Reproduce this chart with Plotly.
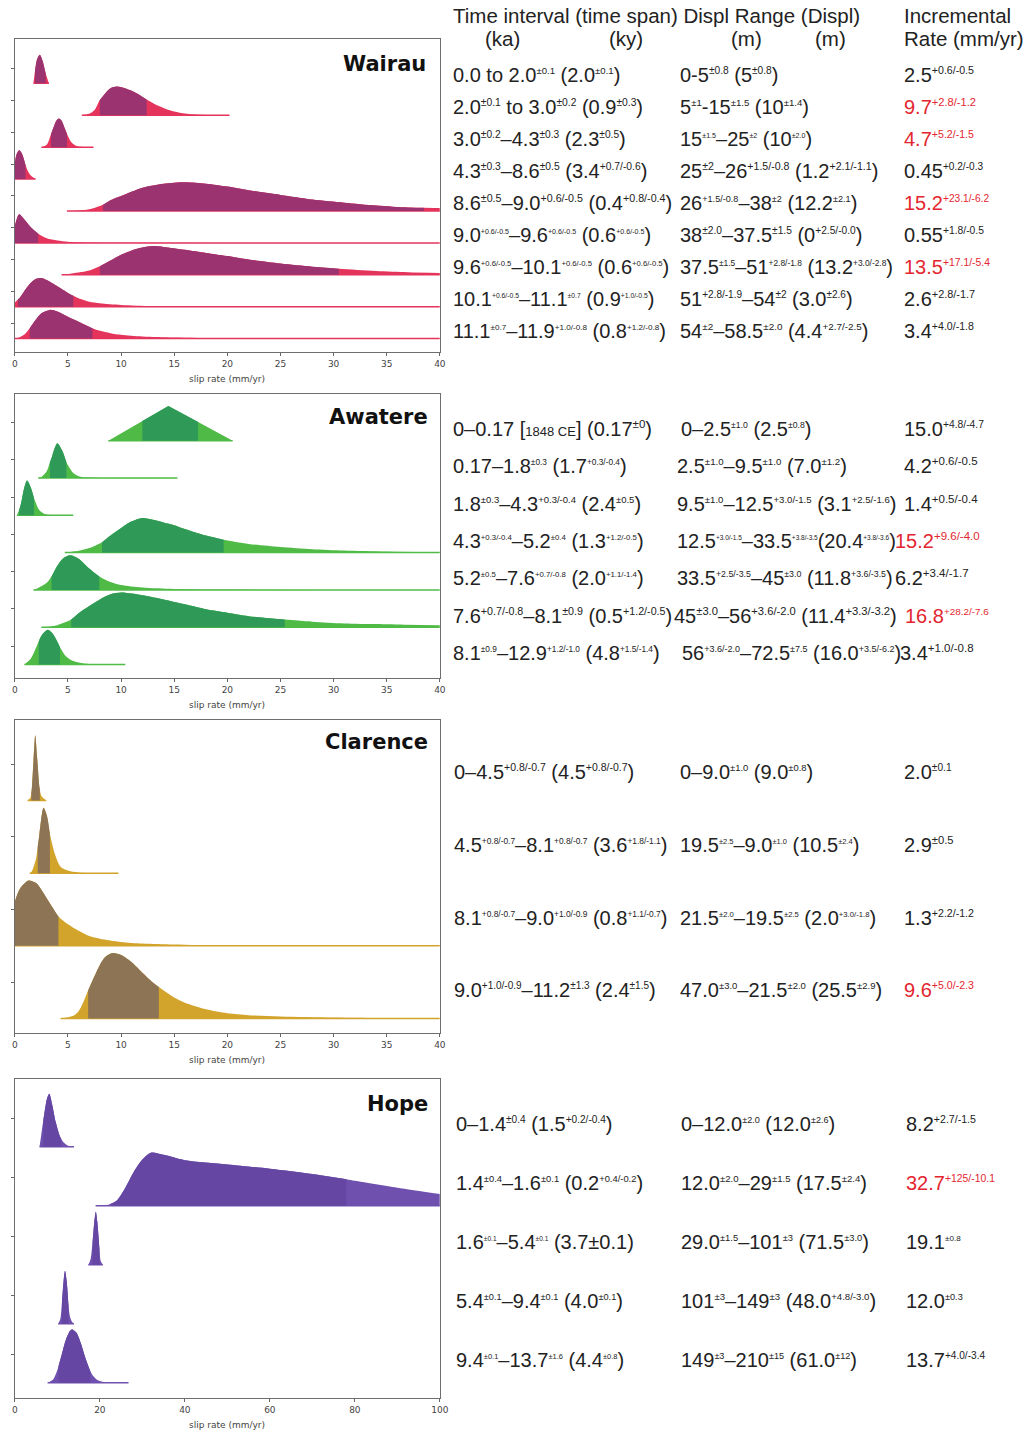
import re
import plotly.graph_objects as go

W, H = 1029, 1435

# ------------------------------------------------------------------ data
# Each ridge: slip-rate sample points (mm/yr) and relative density (peak = 1),
# plus the bounds of the darker (central) interval.
wairau_x = [
    [1.75, 1.9, 2.1, 2.35, 2.6, 2.9, 3.2],
    [6.3, 7.0, 7.5, 8.0, 8.5, 9.0, 9.6, 10.5, 11.5, 12.4, 13.5, 14.5, 15.5, 17.0, 20.2],
    [2.5, 3.0, 3.4, 3.6, 3.9, 4.15, 4.4, 4.7, 4.9, 5.3, 5.7, 6.3, 7.4],
    [0.0, 0.15, 0.4, 0.65, 1.0, 1.2, 1.5, 1.95],
    [4.9, 6, 7, 8.3, 9, 10, 12, 14, 16, 18, 20, 22, 25, 28, 31, 34, 37, 38.5, 40],
    [0.0, 0.4, 1.0, 1.5, 2.2, 2.5, 3, 4, 5, 7, 10, 40],
    [4.4, 5, 6, 7, 8, 9, 10, 11, 12, 13, 14, 16, 18, 20, 22, 25, 28, 30.5, 34, 37, 40],
    [0.0, 0.3, 0.5, 1, 1.5, 2, 2.5, 3, 4, 5, 5.5, 6, 7, 8, 10, 13, 18, 40],
    [0.0, 0.5, 1, 1.4, 2, 2.5, 3.3, 4, 5, 6, 7.3, 8, 9, 10, 12, 15, 20, 40],
]
wairau_h = [
    [0, 0.45, 0.85, 1.0, 0.8, 0.35, 0],
    [0, 0.05, 0.18, 0.53, 0.76, 0.94, 1.0, 0.92, 0.76, 0.55, 0.33, 0.18, 0.09, 0.03, 0],
    [0, 0.08, 0.45, 0.65, 0.92, 1.0, 0.92, 0.65, 0.47, 0.18, 0.06, 0.01, 0],
    [0.55, 0.85, 1.0, 0.9, 0.5, 0.3, 0.12, 0],
    [0, 0.02, 0.06, 0.22, 0.375, 0.52, 0.81, 0.95, 1.0, 0.95, 0.85, 0.72, 0.56, 0.4, 0.29, 0.19, 0.12, 0.11, 0.1],
    [0.6, 1.0, 0.77, 0.54, 0.32, 0.25, 0.16, 0.08, 0.04, 0.01, 0.003, 0],
    [0, 0.03, 0.08, 0.15, 0.3, 0.5, 0.7, 0.85, 0.95, 1.0, 0.97, 0.87, 0.76, 0.65, 0.53, 0.39, 0.28, 0.21, 0.13, 0.09, 0.06],
    [0.15, 0.26, 0.33, 0.6, 0.83, 0.97, 1.0, 0.93, 0.71, 0.48, 0.38, 0.29, 0.17, 0.12, 0.06, 0.02, 0.005, 0],
    [0, 0.06, 0.18, 0.36, 0.67, 0.88, 1.0, 0.94, 0.76, 0.59, 0.36, 0.27, 0.19, 0.13, 0.07, 0.035, 0.01, 0],
]
wairau_lo = [1.9, 8.0, 3.4, 0.0, 8.3, 0.0, 8.0, 0.3, 1.4]
wairau_hi = [2.9, 12.4, 4.9, 1.0, 38.5, 2.2, 30.5, 5.5, 7.3]

awatere_x = [
    [8.8, 12.0, 14.45, 17.25, 20.5],
    [2.2, 2.5, 3.0, 3.3, 3.5, 3.75, 4.0, 4.5, 4.85, 5.5, 6.0, 7.0, 15.3],
    [0.2, 0.4, 0.6, 0.85, 1.15, 1.5, 1.8, 2.3, 2.8, 3.5, 5.5],
    [4.7, 5, 6, 7, 8.2, 9, 10, 11, 12, 13, 14, 15, 16, 17, 18, 19.65, 22, 25, 28, 31, 35, 40],
    [1.75, 2, 3, 3.45, 4, 4.5, 5.2, 6, 7, 7.95, 9, 10, 12, 15, 20, 40],
    [2.5, 3, 4, 5.3, 6, 7, 8, 9, 10, 11, 12, 14, 16, 18, 20, 22, 25.4, 28, 31, 34, 37, 40],
    [0.9, 1, 1.5, 2, 2.25, 2.5, 3.1, 3.6, 4.25, 4.8, 5.5, 6.5, 8, 10.4],
]
awatere_h = [
    [0, 0.566, 1.0, 0.537, 0],
    [0, 0.03, 0.19, 0.45, 0.62, 0.86, 1.0, 0.76, 0.45, 0.14, 0.05, 0.01, 0],
    [0, 0.15, 0.36, 0.75, 1.0, 0.8, 0.5, 0.15, 0.04, 0.01, 0],
    [0, 0.01, 0.05, 0.13, 0.3, 0.49, 0.71, 0.9, 1.0, 0.95, 0.87, 0.79, 0.68, 0.58, 0.49, 0.37, 0.25, 0.16, 0.1, 0.06, 0.03, 0.01],
    [0, 0.03, 0.21, 0.39, 0.7, 0.9, 1.0, 0.9, 0.62, 0.39, 0.23, 0.14, 0.07, 0.03, 0.01, 0],
    [0, 0.01, 0.06, 0.22, 0.4, 0.61, 0.8, 0.95, 1.0, 0.97, 0.92, 0.8, 0.66, 0.52, 0.42, 0.32, 0.22, 0.16, 0.11, 0.09, 0.07, 0.06],
    [0, 0.03, 0.17, 0.49, 0.67, 0.83, 1.0, 0.87, 0.5, 0.24, 0.1, 0.03, 0.01, 0],
]
awatere_lo = [12.0, 3.3, 0.4, 8.2, 3.45, 5.3, 2.25]
awatere_hi = [17.25, 4.85, 1.8, 19.65, 7.95, 25.4, 4.25]

clarence_x = [
    [1.2, 1.45, 1.55, 1.6, 1.75, 1.92, 2.1, 2.3, 2.35, 2.5, 2.95],
    [1.4, 1.6, 2.0, 2.15, 2.3, 2.7, 3.0, 3.3, 3.8, 4.3, 5, 6, 9.75],
    [0.0, 0.5, 1.3, 2, 2.5, 3, 3.5, 4.1, 5, 6, 7, 8, 10, 12, 15, 20, 40],
    [4.3, 5.5, 6, 6.5, 6.9, 7.5, 8, 8.5, 9.2, 10, 11, 12, 13, 13.55, 15, 16, 18, 20, 22, 25, 30, 35, 40],
]
clarence_h = [
    [0, 0.04, 0.12, 0.19, 0.6, 1.0, 0.65, 0.22, 0.17, 0.07, 0],
    [0, 0.03, 0.23, 0.4, 0.58, 1.0, 0.89, 0.6, 0.28, 0.1, 0.04, 0.01, 0],
    [0.68, 0.88, 1.0, 0.96, 0.86, 0.73, 0.6, 0.45, 0.33, 0.23, 0.15, 0.11, 0.06, 0.035, 0.02, 0.005, 0],
    [0, 0.04, 0.11, 0.27, 0.43, 0.65, 0.82, 0.94, 1.0, 0.97, 0.86, 0.7, 0.55, 0.48, 0.32, 0.24, 0.14, 0.08, 0.05, 0.03, 0.015, 0.005, 0],
]
clarence_lo = [1.55, 2.15, 0.0, 6.9]
clarence_hi = [2.35, 3.3, 4.1, 13.55]

hope_x = [
    [5.8, 6.2, 6.7, 7, 7.6, 8.1, 8.8, 9.6, 10.5, 10.9, 11.5, 12.5, 13.9],
    [19, 20, 22, 22.6, 24, 26, 28, 30, 32, 35, 40, 50, 60, 70, 78, 80, 90, 100],
    [17.3, 17.8, 18.3, 18.7, 19.05, 19.4, 19.9, 20.2, 20.7],
    [10.2, 10.7, 11.1, 11.5, 11.8, 12.2, 12.6, 13.0, 13.5, 13.9],
    [7.7, 8, 9, 10, 10.3, 11, 12, 13, 13.5, 14.5, 15.5, 16.5, 17.7, 18.5, 19.5, 21, 26.75],
]
hope_h = [
    [0, 0.22, 0.5, 0.66, 0.92, 1.0, 0.79, 0.47, 0.22, 0.15, 0.08, 0.02, 0],
    [0, 0.005, 0.02, 0.04, 0.1, 0.34, 0.64, 0.87, 1.0, 0.96, 0.86, 0.78, 0.7, 0.6, 0.5, 0.47, 0.34, 0.22],
    [0, 0.1, 0.44, 0.81, 1.0, 0.81, 0.3, 0.07, 0],
    [0, 0.09, 0.43, 0.83, 1.0, 0.8, 0.37, 0.12, 0.03, 0],
    [0, 0.01, 0.06, 0.24, 0.32, 0.52, 0.81, 0.98, 1.0, 0.94, 0.75, 0.49, 0.23, 0.12, 0.045, 0.01, 0],
]
hope_lo = [6.7, 22.6, 18.3, 11.1, 10.3]
hope_hi = [10.9, 78.0, 19.9, 12.6, 17.7]

# table text ( {...} = superscript, «...» = small text )
wairau_interval = [
    "0.0 to 2.0{±0.1} (2.0{±0.1})",
    "2.0{±0.1} to 3.0{±0.2} (0.9{±0.3})",
    "3.0{±0.2}–4.3{±0.3} (2.3{±0.5})",
    "4.3{±0.3}–8.6{±0.5} (3.4{+0.7/-0.6})",
    "8.6{±0.5}–9.0{+0.6/-0.5} (0.4{+0.8/-0.4})",
    "9.0{+0.6/-0.5}–9.6{+0.6/-0.5} (0.6{+0.6/-0.5})",
    "9.6{+0.6/-0.5}–10.1{+0.6/-0.5} (0.6{+0.6/-0.5})",
    "10.1{+0.6/-0.5}–11.1{±0.7} (0.9{+1.0/-0.5})",
    "11.1{±0.7}–11.9{+1.0/-0.8} (0.8{+1.2/-0.8})",
]
wairau_displ = [
    "0-5{±0.8} (5{±0.8})",
    "5{±1}-15{±1.5} (10{±1.4})",
    "15{±1.5}–25{±2} (10{±2.0})",
    "25{±2}–26{+1.5/-0.8} (1.2{+2.1/-1.1})",
    "26{+1.5/-0.8}–38{±2} (12.2{±2.1})",
    "38{±2.0}–37.5{±1.5} (0{+2.5/-0.0})",
    "37.5{±1.5}–51{+2.8/-1.8} (13.2{+3.0/-2.8})",
    "51{+2.8/-1.9}–54{±2} (3.0{±2.6})",
    "54{±2}–58.5{±2.0} (4.4{+2.7/-2.5})",
]
wairau_rate = ["2.5{+0.6/-0.5}", "9.7{+2.8/-1.2}", "4.7{+5.2/-1.5}", "0.45{+0.2/-0.3}",
               "15.2{+23.1/-6.2}", "0.55{+1.8/-0.5}", "13.5{+17.1/-5.4}", "2.6{+2.8/-1.7}",
               "3.4{+4.0/-1.8}"]
wairau_red = [0, 1, 1, 0, 1, 0, 1, 0, 0]

awatere_interval = [
    "0–0.17 [«1848 CE»] (0.17{±0})",
    "0.17–1.8{±0.3} (1.7{+0.3/-0.4})",
    "1.8{±0.3}–4.3{+0.3/-0.4} (2.4{±0.5})",
    "4.3{+0.3/-0.4}–5.2{±0.4} (1.3{+1.2/-0.5})",
    "5.2{±0.5}–7.6{+0.7/-0.8} (2.0{+1.1/-1.4})",
    "7.6{+0.7/-0.8}–8.1{±0.9} (0.5{+1.2/-0.5})",
    "8.1{±0.9}–12.9{+1.2/-1.0} (4.8{+1.5/-1.4})",
]
awatere_displ = [
    "0–2.5{±1.0} (2.5{±0.8})",
    "2.5{±1.0}–9.5{±1.0} (7.0{±1.2})",
    "9.5{±1.0}–12.5{+3.0/-1.5} (3.1{+2.5/-1.6})",
    "12.5{+3.0/-1.5}–33.5{+3.8/-3.5}(20.4{+3.8/-3.6})",
    "33.5{+2.5/-3.5}–45{±3.0} (11.8{+3.6/-3.5})",
    "45{±3.0}–56{+3.6/-2.0} (11.4{+3.3/-3.2})",
    "56{+3.6/-2.0}–72.5{±7.5} (16.0{+3.5/-6.2})",
]
awatere_rate = ["15.0{+4.8/-4.7}", "4.2{+0.6/-0.5}", "1.4{+0.5/-0.4}", "15.2{+9.6/-4.0}",
                "6.2{+3.4/-1.7}", "16.8{+28.2/-7.6}", "3.4{+1.0/-0.8}"]
awatere_red = [0, 0, 0, 1, 0, 1, 0]

clarence_interval = [
    "0–4.5{+0.8/-0.7} (4.5{+0.8/-0.7})",
    "4.5{+0.8/-0.7}–8.1{+0.8/-0.7} (3.6{+1.8/-1.1})",
    "8.1{+0.8/-0.7}–9.0{+1.0/-0.9} (0.8{+1.1/-0.7})",
    "9.0{+1.0/-0.9}–11.2{±1.3} (2.4{±1.5})",
]
clarence_displ = [
    "0–9.0{±1.0} (9.0{±0.8})",
    "19.5{±2.5}–9.0{±1.0} (10.5{±2.4})",
    "21.5{±2.0}–19.5{±2.5} (2.0{+3.0/-1.8})",
    "47.0{±3.0}–21.5{±2.0} (25.5{±2.9})",
]
clarence_rate = ["2.0{±0.1}", "2.9{±0.5}", "1.3{+2.2/-1.2}", "9.6{+5.0/-2.3}"]
clarence_red = [0, 0, 0, 1]

hope_interval = [
    "0–1.4{±0.4} (1.5{+0.2/-0.4})",
    "1.4{±0.4}–1.6{±0.1} (0.2{+0.4/-0.2})",
    "1.6{±0.1}–5.4{±0.1} (3.7±0.1)",
    "5.4{±0.1}–9.4{±0.1} (4.0{±0.1})",
    "9.4{±0.1}–13.7{±1.6} (4.4{±0.8})",
]
hope_displ = [
    "0–12.0{±2.0} (12.0{±2.6})",
    "12.0{±2.0}–29{±1.5} (17.5{±2.4})",
    "29.0{±1.5}–101{±3} (71.5{±3.0})",
    "101{±3}–149{±3} (48.0{+4.8/-3.0})",
    "149{±3}–210{±15} (61.0{±12})",
]
hope_rate = ["8.2{+2.7/-1.5}", "32.7{+125/-10.1}", "19.1{±0.8}", "12.0{±0.3}", "13.7{+4.0/-3.4}"]
hope_red = [0, 1, 0, 0, 0]

fault_names = ["Wairau", "Awatere", "Clarence", "Hope"]
x_tick_values = [[0, 5, 10, 15, 20, 25, 30, 35, 40]] * 3 + [[0, 20, 40, 60, 80, 100]]
x_ranges = [[0, 40]] * 3 + [[0, 100]]

# ------------------------------------------------------------------ styles / layout (pixels)
panels = [
    dict(xs=wairau_x, hs=wairau_h, lo=wairau_lo, hi=wairau_hi,
         cols=(wairau_interval, wairau_displ, wairau_rate), red=wairau_red,
         dark="#9a336f", light="#e5345c", top=39, bottom=352, bpad=0.42, tpad=1.39,
         tickoff=0.47, peak=0.9, textoff=0.25, title_y=64, title_x=430,
         starts=([453] * 9, [683] * 9, [910] * 9),
         ends=([621, 644, 627, 648, 673, 651, 669, 656, 669],
               [782, 813, 816, 882, 861, 866, 896, 856, 872],
               [980, 982, 980, 989, 995, 990, 996, 981, 980])),
    dict(xs=awatere_x, hs=awatere_h, lo=awatere_lo, hi=awatere_hi,
         cols=(awatere_interval, awatere_displ, awatere_rate), red=awatere_red,
         dark="#2f9a58", light="#4fbb46", top=394, bottom=678, bpad=0.36, tpad=1.25,
         tickoff=0.49, peak=0.93, textoff=0.31, title_y=417, title_x=432,
         starts=([453] * 7, [684, 680, 680, 680, 680, 677, 685], [910, 910, 910, 901, 901, 911, 906]),
         ends=([654, 627, 642, 644, 644, 673, 660],
               [815, 851, 900, 899, 897, 902, 904],
               [990, 986, 986, 990, 986, 995, 991])),
    dict(xs=clarence_x, hs=clarence_h, lo=clarence_lo, hi=clarence_hi,
         cols=(clarence_interval, clarence_displ, clarence_rate), red=clarence_red,
         dark="#8c7455", light="#d3a42c", top=720, bottom=1033, bpad=0.2, tpad=1.11,
         tickoff=0.5, peak=0.9, textoff=0.39, title_y=742, title_x=432,
         starts=([454] * 4, [683] * 4, [910] * 4),
         ends=([634, 668, 668, 658], [817, 863, 880, 886], [958, 960, 980, 980])),
    dict(xs=hope_x, hs=hope_h, lo=hope_lo, hi=hope_hi,
         cols=(hope_interval, hope_displ, hope_rate), red=hope_red,
         dark="#6546a3", light="#6f50ae", top=1079, bottom=1398, bpad=0.26, tpad=1.15,
         tickoff=0.48, peak=0.9, textoff=0.39, title_y=1104, title_x=432,
         starts=([456] * 5, [684] * 5, [912] * 5),
         ends=([613, 644, 635, 624, 625], [839, 871, 873, 880, 861], [982, 1001, 967, 969, 991])),
]
linear_ridges = {(1, 0)}  # the Awatere 1848 triangle

PX0, PX1 = 12, 442
TEXT_FONT = "Liberation Sans, Arial, sans-serif"
TEXT_COLOR = "#222222"
RED = "#e3262f"
F = 20            # table body font size
FH = 20.5         # header font size
SMALL = 13        # small inline text size

# Arial / Liberation Sans advance widths (per 1000 em)
AW = {c: 556 for c in "0123456789"}
AW.update({".": 278, " ": 278, "(": 333, ")": 333, "+": 584, "±": 584, "/": 278, "-": 333,
           "–": 556, "t": 278, "o": 556, "[": 278, "]": 278, "C": 722, "E": 667})


def em(s):
    return sum(AW.get(c, 556) for c in s) / 1000.0


def build(s, width):
    toks = re.findall(r"\{[^}]*\}|«[^»]*»|[^{«]+", s)
    main = sum(em(t) for t in toks if t[0] not in "{«")
    small = sum(em(t[1:-1]) for t in toks if t[0] == "«")
    sup = sum(em(t[1:-1]) for t in toks if t[0] == "{")
    ss = (width - F * main - SMALL * small) / sup if sup else 10
    ss = max(5.5, min(11.5, ss))
    out = ""
    for t in toks:
        if t[0] == "{":
            out += "<sup><span style='font-size:%.1fpx'>%s</span></sup>" % (ss, t[1:-1])
        elif t[0] == "«":
            out += "<span style='font-size:%dpx'>%s</span>" % (SMALL, t[1:-1])
        else:
            out += t
    return out


def py(p):
    return 1 - p / H


fig = go.Figure()
annotations = []
layout_axes = {}

for k, P in enumerate(panels):
    xa = "x" if k == 0 else f"x{k+1}"
    ya = "y" if k == 0 else f"y{k+1}"
    n = len(P["xs"])
    for i in range(n):
        b = n - 1 - i
        xs, hs = P["xs"][i], P["hs"][i]
        shape = "linear" if (k, i) in linear_ridges else "spline"
        ys = [b + h * P["peak"] for h in hs]
        common = dict(xaxis=xa, yaxis=ya, hoverinfo="skip", showlegend=False)
        fig.add_trace(go.Scatter(x=[xs[0], xs[-1]], y=[b, b], mode="lines",
                                 line=dict(color=P["light"], width=1.5), **common))
        fig.add_trace(go.Scatter(x=xs, y=ys, mode="lines", fill="tonexty", fillcolor=P["light"],
                                 line=dict(width=0, shape=shape, smoothing=0.8), **common))
        lo, hi = P["lo"][i], P["hi"][i]
        sel = [(x, b + h * P["peak"]) for x, h in zip(xs, hs) if lo - 1e-9 <= x <= hi + 1e-9]
        dx = [s[0] for s in sel]
        dy = [s[1] for s in sel]
        fig.add_trace(go.Scatter(x=[dx[0], dx[-1]], y=[b, b], mode="lines",
                                 line=dict(width=0), **common))
        fig.add_trace(go.Scatter(x=dx, y=dy, mode="lines", fill="tonexty", fillcolor=P["dark"],
                                 line=dict(width=0, shape=shape, smoothing=0.8), **common))

    xkey = "xaxis" if k == 0 else f"xaxis{k+1}"
    ykey = "yaxis" if k == 0 else f"yaxis{k+1}"
    layout_axes[xkey] = dict(
        domain=[PX0 / W, PX1 / W], anchor=ya, range=x_ranges[k], tickvals=x_tick_values[k],
        ticks="outside", ticklen=3, tickcolor="#666", showgrid=False, zeroline=False,
        showline=True, mirror=True, linecolor="#6e6e6e", linewidth=1,
        tickfont=dict(family="DejaVu Sans", size=9, color="#444"),
    )
    layout_axes[ykey] = dict(
        domain=[py(P["bottom"]), py(P["top"])], anchor=xa,
        range=[-P["bpad"], n - 1 + P["tpad"]],
        tickvals=[j + P["tickoff"] for j in range(n)], ticks="outside", ticklen=3,
        tickcolor="#666", showticklabels=False, showgrid=False, zeroline=False,
        showline=True, mirror=True, linecolor="#6e6e6e", linewidth=1,
    )
    annotations.append(dict(text="<b>" + fault_names[k] + "</b>", x=P["title_x"] / W, y=py(P["title_y"]),
                            xref="paper", yref="paper", xanchor="right", yanchor="middle",
                            showarrow=False, font=dict(family="DejaVu Sans", size=21, color="#111")))
    annotations.append(dict(text="slip rate (mm/yr)", x=(PX0 + PX1) / 2 / W, y=py(P["bottom"] + 27),
                            xref="paper", yref="paper", xanchor="center", yanchor="middle",
                            showarrow=False, font=dict(family="DejaVu Sans", size=9, color="#444")))
    for i in range(n):
        b = n - 1 - i
        for c in range(3):
            x0 = P["starts"][c][i]
            txt = build(P["cols"][c][i], P["ends"][c][i] - x0)
            color = RED if (c == 2 and P["red"][i]) else TEXT_COLOR
            annotations.append(dict(text=txt, x=x0 / W, y=b + P["textoff"],
                                    xref="paper", yref=ya, xanchor="left", yanchor="middle",
                                    showarrow=False, font=dict(family=TEXT_FONT, size=F, color=color)))

headers = [
    ("Time interval (time span) Displ Range (Displ)", 453, 15),
    ("Incremental", 910, 15),
    ("(ka)", 486, 39),
    ("(ky)", 611, 39),
    ("(m)", 735, 39),
    ("(m)", 820, 39),
    ("Rate (mm/yr)", 910, 39),
]
for t, x, y in headers:
    annotations.append(dict(text=t, x=x / W, y=py(y), xref="paper", yref="paper",
                            xanchor="left", yanchor="middle", showarrow=False,
                            font=dict(family=TEXT_FONT, size=FH, color=TEXT_COLOR)))

fig.update_layout(
    width=W, height=H, margin=dict(l=0, r=0, t=0, b=0),
    paper_bgcolor="white", plot_bgcolor="white", showlegend=False,
    annotations=annotations, **layout_axes,
)

fig.write_html("out.html", config={"displayModeBar": False},
               post_script="document.body.style.margin='0px';")
